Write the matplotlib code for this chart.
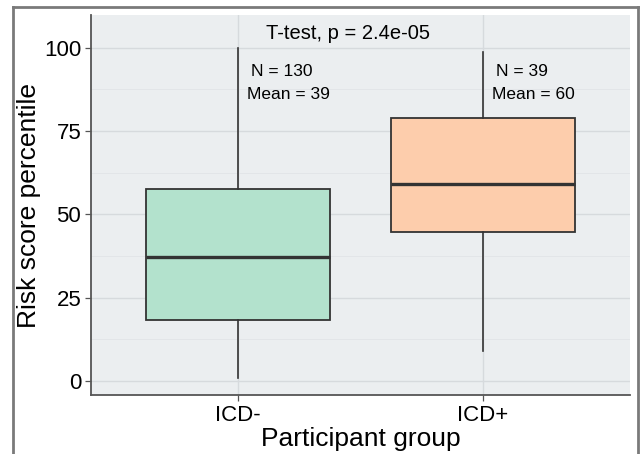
import matplotlib
matplotlib.use("Agg")
import matplotlib.pyplot as plt
from matplotlib.lines import Line2D

plt.rcParams['font.family'] = ['Liberation Sans', 'DejaVu Sans']

groups = ["ICD-", "ICD+"]
whisker_low = [1, 9]
q1 = [18.2, 44.6]
median = [37.1, 59.0]
q3 = [57.7, 79.0]
whisker_high = [100, 98.8]
n_counts = [130, 39]
means = [39, 60]
colors = ["#b3e2cd", "#fdcdac"]
p_label = "T-test, p = 2.4e-05"
yticks = [0, 25, 50, 75, 100]

W, H = 640, 454
fig = plt.figure(figsize=(W / 100, H / 100), dpi=100)
fig.patch.set_facecolor("white")
ax = fig.add_axes([91 / W, 1 - 395 / H, (630 - 91) / W, (395 - 15) / H])
ax.set_facecolor("#ebeef0")

positions = [1, 2]
stats = []
for i in range(len(groups)):
    stats.append(dict(med=median[i], q1=q1[i], q3=q3[i],
                      whislo=whisker_low[i], whishi=whisker_high[i],
                      fliers=[], label=groups[i]))
bp = ax.bxp(stats, positions=positions, widths=0.75, patch_artist=True,
            showcaps=False, showfliers=False,
            boxprops=dict(edgecolor="#333333", linewidth=1.3),
            whiskerprops=dict(color="#333333", linewidth=1.2),
            medianprops=dict(color="#333333", linewidth=2.4), zorder=3)
for patch, c in zip(bp["boxes"], colors):
    patch.set_facecolor(c)

ax.set_xlim(0.4, 2.6)
ax.set_ylim(-4.2, 109.8)
ax.set_yticks(yticks)
ax.set_yticks([12.5, 37.5, 62.5, 87.5], minor=True)
ax.set_xticks(positions)
ax.set_xticklabels(groups)
ax.grid(True, which="major", color="#d6dadd", linewidth=1.0, zorder=0)
ax.grid(True, which="minor", axis="y", color="#e2e5e8", linewidth=0.7, zorder=0)
ax.set_axisbelow(True)
ax.tick_params(axis="y", which="minor", length=0)
ax.tick_params(axis="both", which="major", length=4, width=0.9, color="#555555",
               labelsize=16, labelcolor="black", pad=3)

for s in ["top", "right"]:
    ax.spines[s].set_visible(False)
for s in ["left", "bottom"]:
    ax.spines[s].set_color("#555555")
    ax.spines[s].set_linewidth(1.3)

ax.set_xlabel("Participant group", fontsize=19, labelpad=1)
ax.set_ylabel("Risk score percentile", fontsize=19, labelpad=2)

ax.text(1.45, 104.2, p_label, ha="center", va="center", fontsize=14.5)
for i, x in enumerate(positions):
    ax.text(x + 0.053, 92.8, f"N = {n_counts[i]}", ha="left", va="center", fontsize=12.5)
    ax.text(x + 0.037, 85.9, f"Mean = {means[i]}", ha="left", va="center", fontsize=12.5)

# outer frame of the screenshot
def fx(px):
    return px / W
def fy(py):
    return 1 - py / H
frame_kw = dict(color="#7a7a7a", linewidth=2.0, transform=fig.transFigure)
fig.add_artist(Line2D([fx(12.5), fx(12.5)], [fy(6.5), fy(460)], **frame_kw))
fig.add_artist(Line2D([fx(12.5), fx(637.5)], [fy(6.5), fy(6.5)], **frame_kw))
fig.add_artist(Line2D([fx(637.5), fx(637.5)], [fy(6.5), fy(460)], **frame_kw))

fig.savefig("out.png", dpi=100)
